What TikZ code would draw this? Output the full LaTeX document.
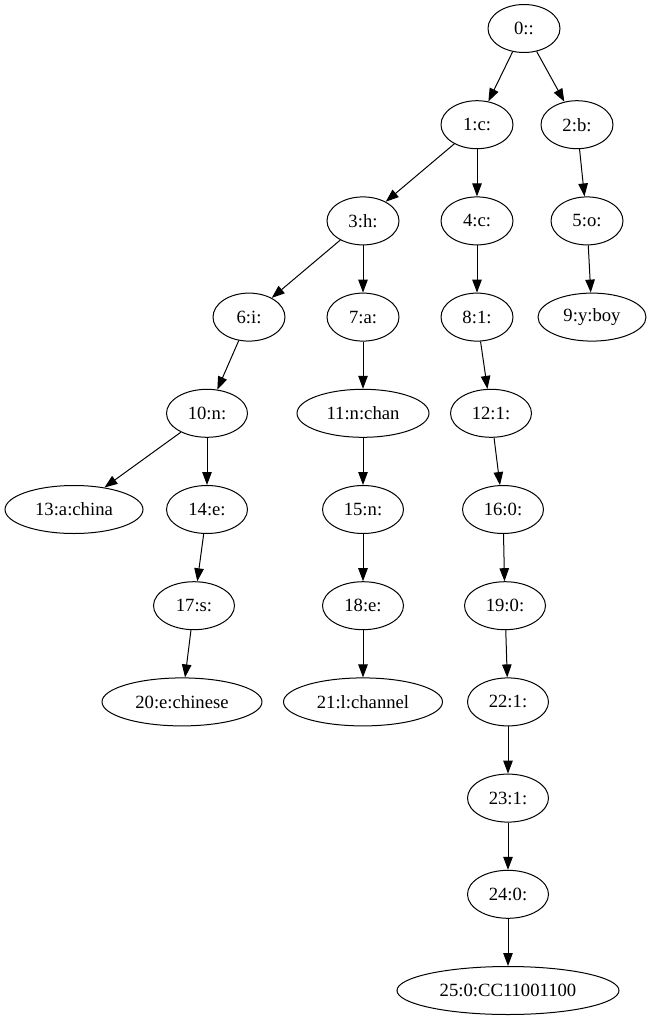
\documentclass[tikz,border=0pt]{standalone}
\usepackage{fontspec}
\setmainfont{Liberation Serif}
\usetikzlibrary{arrows.meta,shapes.geometric}
\tikzset{
  tnode/.style={ellipse,draw,line width=1pt,inner sep=0pt,minimum height=48pt,minimum width=72pt,font=\fontsize{18.67}{22}\selectfont},
  wnode/.style={tnode,minimum width=81pt},
  edge/.style={line width=1pt,-{Triangle[length=13pt,width=9.5pt]}}
}
\begin{document}
\begin{tikzpicture}[x=1pt,y=-1pt]
\useasboundingbox (0,0) rectangle (651,1019);
\def\ry#1{28.5+96.2*#1}
\node[tnode] (n0) at (524,{\ry{0}}) {0::};
\node[tnode] (n1) at (477,{\ry{1}}) {1:c:};
\node[tnode] (n2) at (577,{\ry{1}}) {2:b:};
\node[tnode] (n3) at (363,{\ry{2}}) {3:h:};
\node[tnode] (n4) at (477,{\ry{2}}) {4:c:};
\node[tnode] (n5) at (587,{\ry{2}}) {5:o:};
\node[tnode] (n6) at (249,{\ry{3}}) {6:i:};
\node[tnode] (n7) at (363,{\ry{3}}) {7:a:};
\node[tnode] (n8) at (477,{\ry{3}}) {8:1:};
\node[tnode,minimum width=108pt] (n9) at (592,{\ry{3}}) {9:y:boy};
\node[wnode] (n10) at (207,{\ry{4}}) {10:n:};
\node[tnode,minimum width=132pt] (n11) at (363,{\ry{4}}) {11:n:chan};
\node[wnode] (n12) at (491,{\ry{4}}) {12:1:};
\node[tnode,minimum width=138pt] (n13) at (74,{\ry{5}}) {13:a:china};
\node[wnode] (n14) at (207,{\ry{5}}) {14:e:};
\node[wnode] (n15) at (363,{\ry{5}}) {15:n:};
\node[wnode] (n16) at (503,{\ry{5}}) {16:0:};
\node[wnode] (n17) at (194,{\ry{6}}) {17:s:};
\node[wnode] (n18) at (363,{\ry{6}}) {18:e:};
\node[wnode] (n19) at (505,{\ry{6}}) {19:0:};
\node[tnode,minimum width=160pt] (n20) at (182,{\ry{7}}) {20:e:chinese};
\node[tnode,minimum width=159pt] (n21) at (363,{\ry{7}}) {21:l:channel};
\node[wnode] (n22) at (508,{\ry{7}}) {22:1:};
\node[wnode] (n23) at (508,{\ry{8}}) {23:1:};
\node[wnode] (n24) at (508,{\ry{9}}) {24:0:};
\node[tnode,minimum width=222pt] (n25) at (508,{\ry{10}}) {25:0:CC11001100};
\foreach \a/\b in {n0/n1,n0/n2,n1/n3,n1/n4,n2/n5,n3/n6,n3/n7,n4/n8,n5/n9,n6/n10,n7/n11,n8/n12,n10/n13,n10/n14,n11/n15,n12/n16,n14/n17,n15/n18,n16/n19,n17/n20,n18/n21,n19/n22,n22/n23,n23/n24,n24/n25}
  \draw[edge] (\a) -- (\b);
\end{tikzpicture}
\end{document}
